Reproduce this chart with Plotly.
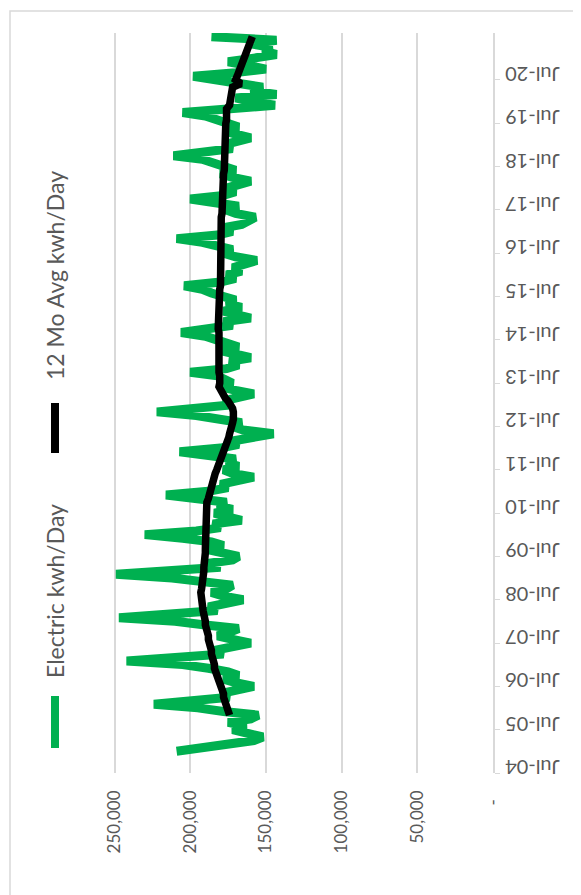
import pandas as pd
import plotly.graph_objects as go

# Monthly electric kWh/Day, starting Jan 2005
electric_start = "2005-01-01"
electric_kwh_day = [
    209000, 190000, 170000, 158000, 152000, 165000, 172000, 163000, 175000, 160000, 155000, 178000, 195000,
    224000, 192000, 174000, 180000, 165000, 158000, 170000, 178000, 168000, 175000, 188000, 205000,
    242000, 200000, 178000, 184000, 168000, 160000, 172000, 182000, 174000, 168000, 190000, 210000,
    247000, 205000, 182000, 188000, 172000, 165000, 178000, 186000, 176000, 172000, 192000, 212000,
    249000, 206000, 180000, 190000, 172000, 168000, 182000, 190000, 178000, 186000, 205000,
    230000, 196000, 180000, 185000, 166000, 176000, 184000, 172000, 182000, 176000, 195000,
    216000, 188000, 175000, 180000, 166000, 158000, 172000, 178000, 168000, 176000, 170000, 188000,
    207000, 180000, 168000, 172000, 158000, 145000, 165000, 172000, 166000, 180000, 196000,
    222000, 190000, 172000, 178000, 165000, 158000, 170000, 180000, 172000, 176000, 182000,
    200000, 176000, 168000, 174000, 160000, 170000, 180000, 168000, 176000, 186000, 190000,
    206000, 182000, 172000, 178000, 160000, 170000, 178000, 166000, 176000, 170000, 180000, 186000, 192000,
    204000, 180000, 170000, 176000, 166000, 172000, 163000, 156000, 170000, 178000, 172000, 182000, 192000,
    209000, 182000, 172000, 178000, 166000, 160000, 157000, 170000, 176000, 168000, 186000,
    200000, 178000, 170000, 176000, 165000, 160000, 172000, 180000, 170000, 176000, 184000, 192000,
    211000, 185000, 172000, 178000, 165000, 160000, 170000, 178000, 168000, 175000, 182000, 190000,
    205000, 172000, 144000, 160000, 170000, 143000, 160000, 152000, 168000, 180000,
    198000, 170000, 150000, 162000, 175000, 158000, 143000, 152000, 146000, 160000, 143000, 186000,
]

# 12-month average kWh/Day, starting Nov 2005
avg_start = "2005-11-01"
avg12_kwh_day = [
    174000, 175000, 176000, 176000, 177000, 178000, 178000, 179000, 180000,
    181000, 181000, 182000, 183000, 184000, 184000, 185000, 185000, 186000, 186000, 187000, 187000,
    188000, 188000, 189000, 189000, 190000, 190000, 191000, 191000, 191500, 192000, 192500, 193000,
    193500, 193000, 192500, 192000, 192000, 191500, 191500, 191000, 191000, 190500, 190500, 190000,
    190000, 190000, 190000, 189500, 189500, 189500, 189000, 189000, 189000, 189000, 189000, 189000,
    189000, 189000, 189000, 188000, 187500, 187000, 186000, 185500, 185000, 184500, 183500, 182500,
    181500, 180500, 179500, 179000, 178000, 177000, 176000, 175500, 174500, 174000, 173000, 172500,
    172000, 171500, 171000, 171500, 172000, 173000, 175000, 177000, 178500, 180000, 181000, 180500,
    180000, 180500, 181000, 181000, 181000, 180500, 180500, 180500, 180000, 180000, 180500, 181000,
    181000, 181000, 181500, 181500, 181500, 181000, 181000, 181000, 180500, 180500, 180500, 180500,
    180500, 180500, 180000, 180000, 180000, 180000, 180000, 180500, 180500, 180500, 180000, 180000,
    180000, 180000, 180000, 180000, 179500, 179500, 179500, 179500, 179500, 179500, 179000, 179000,
    179000, 179000, 179000, 178500, 178500, 178500, 178000, 178000, 178000, 178000, 177500, 177500,
    177500, 177500, 177500, 177000, 177000, 177000, 177000, 177000, 176500, 176500, 176500, 176500,
    176000, 176000, 176000, 176000, 174000, 173500, 173000, 172500, 172000, 172000, 166500, 170000,
    169000, 168000, 167000, 166000, 165000, 164000, 163000, 162000, 161000, 160500, 160000, 159000,
]

value_ticks = [0, 50000, 100000, 150000, 200000, 250000]
value_labels = ["-\u00a0\u00a0", "50,000", "100,000", "150,000", "200,000", "250,000"]
year_ticks = [f"{y}-07-01" for y in range(2004, 2021)]
year_labels = [f"Jul-{y % 100:02d}" for y in range(2004, 2021)]

series_names = ["Electric kwh/Day", "12 Mo Avg kwh/Day"]
series_colors = ["#00B050", "#000000"]

dates_e = pd.date_range(electric_start, periods=len(electric_kwh_day), freq="MS")
dates_a = pd.date_range(avg_start, periods=len(avg12_kwh_day), freq="MS")

W, H = 581, 895
L, R, T, B = 105, 96, 25, 130
pw, ph = W - L - R, H - T - B

def px(xp):
    return (xp - L) / pw

def py(yp):
    return (H - B - yp) / ph

fam = "Lato, Carlito, Calibri, sans-serif"
legend_font = dict(family=fam, size=23, color="#595959")
date_font = dict(family=fam, size=20, color="#595959")
value_font = dict(family=fam, size=17, color="#595959")

fig = go.Figure()
fig.add_trace(go.Scatter(x=electric_kwh_day, y=dates_e, mode="lines",
                         line=dict(color=series_colors[0], width=9), name=series_names[0],
                         showlegend=False))
fig.add_trace(go.Scatter(x=avg12_kwh_day, y=dates_a, mode="lines",
                         line=dict(color=series_colors[1], width=7.5), name=series_names[1],
                         showlegend=False))

# legend drawn rotated (chart is rotated 90 degrees)
legend_items = [(series_names[0], series_colors[0], 688, 740, 583),
                (series_names[1], series_colors[1], 395, 445, 268)]
shapes = [dict(type="rect", xref="paper", yref="paper",
               x0=px(2), x1=px(578), y0=py(892), y1=py(3),
               line=dict(color="#d9d9d9", width=1.5), fillcolor="rgba(0,0,0,0)", layer="below")]
annotations = []
for name, col, y0, y1, yc in legend_items:
    shapes.append(dict(type="line", xref="paper", yref="paper",
                       x0=px(47), x1=px(47), y0=py(y0), y1=py(y1),
                       line=dict(color=col, width=8)))
    annotations.append(dict(text=name, xref="paper", yref="paper", x=px(47), y=py(yc),
                            textangle=-90, showarrow=False, xanchor="center", yanchor="middle",
                            font=legend_font))

fig.update_layout(
    width=W, height=H,
    margin=dict(l=L, r=R, t=T, b=B, pad=0),
    paper_bgcolor="white", plot_bgcolor="white",
    showlegend=False,
    shapes=shapes, annotations=annotations,
    xaxis=dict(range=[251000, 0], tickvals=value_ticks, ticktext=value_labels,
               tickangle=-90, showgrid=True, gridcolor="#d9d9d9", gridwidth=1.5,
               zeroline=False, showline=False, ticks="", tickfont=value_font,
               ticklabelstandoff=13, automargin=False),
    yaxis=dict(type="date", range=["2004-07-01", "2021-08-01"], side="right",
               tickvals=year_ticks, ticktext=year_labels, tickangle=180,
               showgrid=False, zeroline=False, showline=True, linecolor="#d9d9d9",
               linewidth=1.5, ticks="outside", ticklen=5, tickcolor="#d9d9d9",
               tickfont=date_font, ticklabelstandoff=56, automargin=False),
)

fig.write_html("out.html")
